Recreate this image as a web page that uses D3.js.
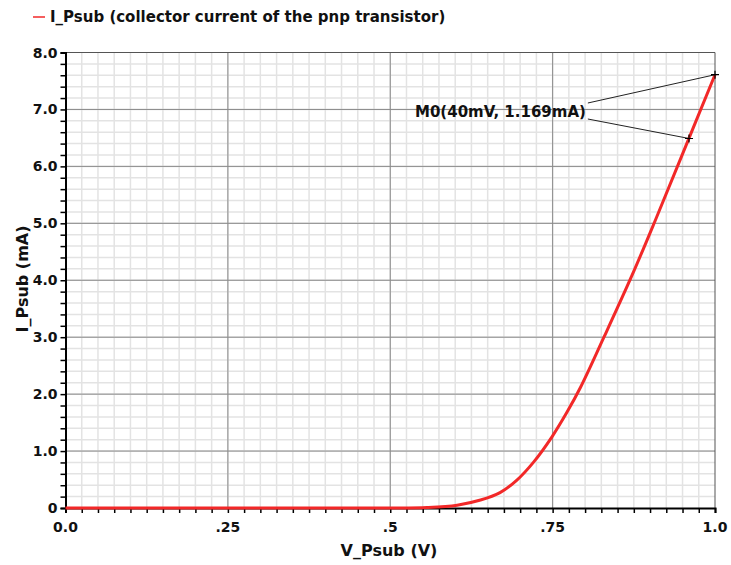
<!DOCTYPE html>
<html>
<head>
<meta charset="utf-8">
<script src="https://cdn.jsdelivr.net/npm/d3@7"></script>
<style>
  html, body { margin: 0; padding: 0; background: #fff; }
  svg text { font-family: "DejaVu Sans", Verdana, sans-serif; font-weight: bold; fill: #111; }
</style>
</head>
<body>
<svg id="chart" width="731" height="565"></svg>
<script>
// Collector current of the pnp transistor vs. substrate voltage
const vPsub = [0.0, 0.25, 0.5, 0.557, 0.603, 0.639, 0.669, 0.695, 0.721, 0.749, 0.772, 0.793, 0.829, 0.872, 0.908, 0.949, 1.0];
const iPsub = [0.0, 0.0, 0.0, 0.01, 0.05, 0.14, 0.27, 0.49, 0.81, 1.25, 1.68, 2.12, 3.0, 4.08, 5.05, 6.19, 7.61];

const xTickValues = [0, 0.25, 0.5, 0.75, 1.0];
const xTickLabels = ["0.0", ".25", ".5", ".75", "1.0"];
const yTickValues = [0, 1, 2, 3, 4, 5, 6, 7, 8];
const yTickLabels = ["0", "1.0", "2.0", "3.0", "4.0", "5.0", "6.0", "7.0", "8.0"];

const legendLabel = "I_Psub (collector current of the pnp transistor)";
const xTitle = "V_Psub (V)";
const yTitle = "I_Psub (mA)";
const markerLabel = "M0(40mV, 1.169mA)";
const markerPoints = [[0.96, 6.49], [1.0, 7.61]];

const svg = d3.select("#chart");
const margin = { left: 65.5, right: 16, top: 52.5, bottom: 57 };
const W = 731, H = 565;
const x = d3.scaleLinear().domain([0, 1]).range([margin.left, W - margin.right]);
const y = d3.scaleLinear().domain([0, 8]).range([H - margin.bottom, margin.top]);

const g = svg.append("g");

// minor grid
g.append("g").selectAll("line").data(d3.range(1, 40).map(i => i * 0.025))
  .join("line").attr("x1", d => x(d)).attr("x2", d => x(d))
  .attr("y1", y(0)).attr("y2", y(8)).attr("stroke", "#e3e3e3").attr("stroke-width", 1.5);
g.append("g").selectAll("line").data(d3.range(1, 40).map(i => i * 0.2))
  .join("line").attr("y1", d => y(d)).attr("y2", d => y(d))
  .attr("x1", x(0)).attr("x2", x(1)).attr("stroke", "#e3e3e3").attr("stroke-width", 1.5);

// major grid
g.append("g").selectAll("line").data(xTickValues.slice(1, -1))
  .join("line").attr("x1", d => x(d)).attr("x2", d => x(d))
  .attr("y1", y(0)).attr("y2", y(8)).attr("stroke", "#8a8a8a").attr("stroke-width", 1);
g.append("g").selectAll("line").data(yTickValues.slice(1, -1))
  .join("line").attr("y1", d => y(d)).attr("y2", d => y(d))
  .attr("x1", x(0)).attr("x2", x(1)).attr("stroke", "#8a8a8a").attr("stroke-width", 1);

// frame (top & right)
g.append("path")
  .attr("d", `M${x(0)},${y(8)}H${x(1)}V${y(0)}`)
  .attr("fill", "none").attr("stroke", "#555").attr("stroke-width", 1);

// axes
const xAxis = d3.axisBottom(x).tickValues(d3.range(0, 41).map(i => i * 0.025))
  .tickSize(5).tickFormat("");
g.append("g").attr("transform", `translate(0,${y(0)})`).call(xAxis)
  .call(a => a.select(".domain").attr("stroke", "#000").attr("stroke-width", 2))
  .call(a => a.selectAll(".tick line").attr("stroke", "#000").attr("stroke-width", 1.5));
const yAxis = d3.axisLeft(y).tickValues(d3.range(0, 41).map(i => i * 0.2))
  .tickSize(5).tickFormat("");
g.append("g").attr("transform", `translate(${x(0)},0)`).call(yAxis)
  .call(a => a.select(".domain").attr("stroke", "#000").attr("stroke-width", 2))
  .call(a => a.selectAll(".tick line").attr("stroke", "#000").attr("stroke-width", 1.5));

// tick labels
g.append("g").selectAll("text").data(xTickValues)
  .join("text").attr("x", d => x(d)).attr("y", y(0) + 24)
  .attr("text-anchor", "middle").attr("font-size", 14)
  .text((d, i) => xTickLabels[i]);
g.append("g").selectAll("text").data(yTickValues)
  .join("text").attr("x", x(0) - 8).attr("y", d => y(d) + 5)
  .attr("text-anchor", "end").attr("font-size", 14)
  .text((d, i) => yTickLabels[i]);

// axis titles
svg.append("text").attr("x", 389).attr("y", 556)
  .attr("text-anchor", "middle").attr("font-size", 16).text(xTitle);
svg.append("text").attr("transform", `translate(28,279) rotate(-90)`)
  .attr("text-anchor", "middle").attr("font-size", 16).text(yTitle);

// curve
const line = d3.line().x((d, i) => x(vPsub[i])).y((d, i) => y(iPsub[i])).curve(d3.curveCatmullRom.alpha(0.5));
g.append("path").datum(vPsub).attr("d", line)
  .attr("fill", "none").attr("stroke", "#f22828").attr("stroke-width", 3);

// marker annotation
const lbl = svg.append("text").attr("x", 415).attr("y", 117).attr("font-size", 15).text(markerLabel);
const bb = lbl.node().getBBox();
const ax = bb.x + bb.width + 2;
svg.append("line").attr("x1", ax).attr("y1", 103)
  .attr("x2", x(markerPoints[1][0])).attr("y2", y(markerPoints[1][1]))
  .attr("stroke", "#222").attr("stroke-width", 1);
svg.append("line").attr("x1", ax).attr("y1", 119)
  .attr("x2", x(markerPoints[0][0])).attr("y2", y(markerPoints[0][1]))
  .attr("stroke", "#222").attr("stroke-width", 1);
markerPoints.forEach(p => {
  const cx = x(p[0]), cy = y(p[1]);
  svg.append("path").attr("d", `M${cx - 4},${cy}H${cx + 4}M${cx},${cy - 4}V${cy + 4}`)
    .attr("stroke", "#000").attr("stroke-width", 1.2);
});

// legend
svg.append("line").attr("x1", 33).attr("x2", 45).attr("y1", 17).attr("y2", 17)
  .attr("stroke", "#f22828").attr("stroke-width", 1.5);
svg.append("text").attr("x", 50).attr("y", 22).attr("font-size", 15).text(legendLabel);
</script>
</body>
</html>
